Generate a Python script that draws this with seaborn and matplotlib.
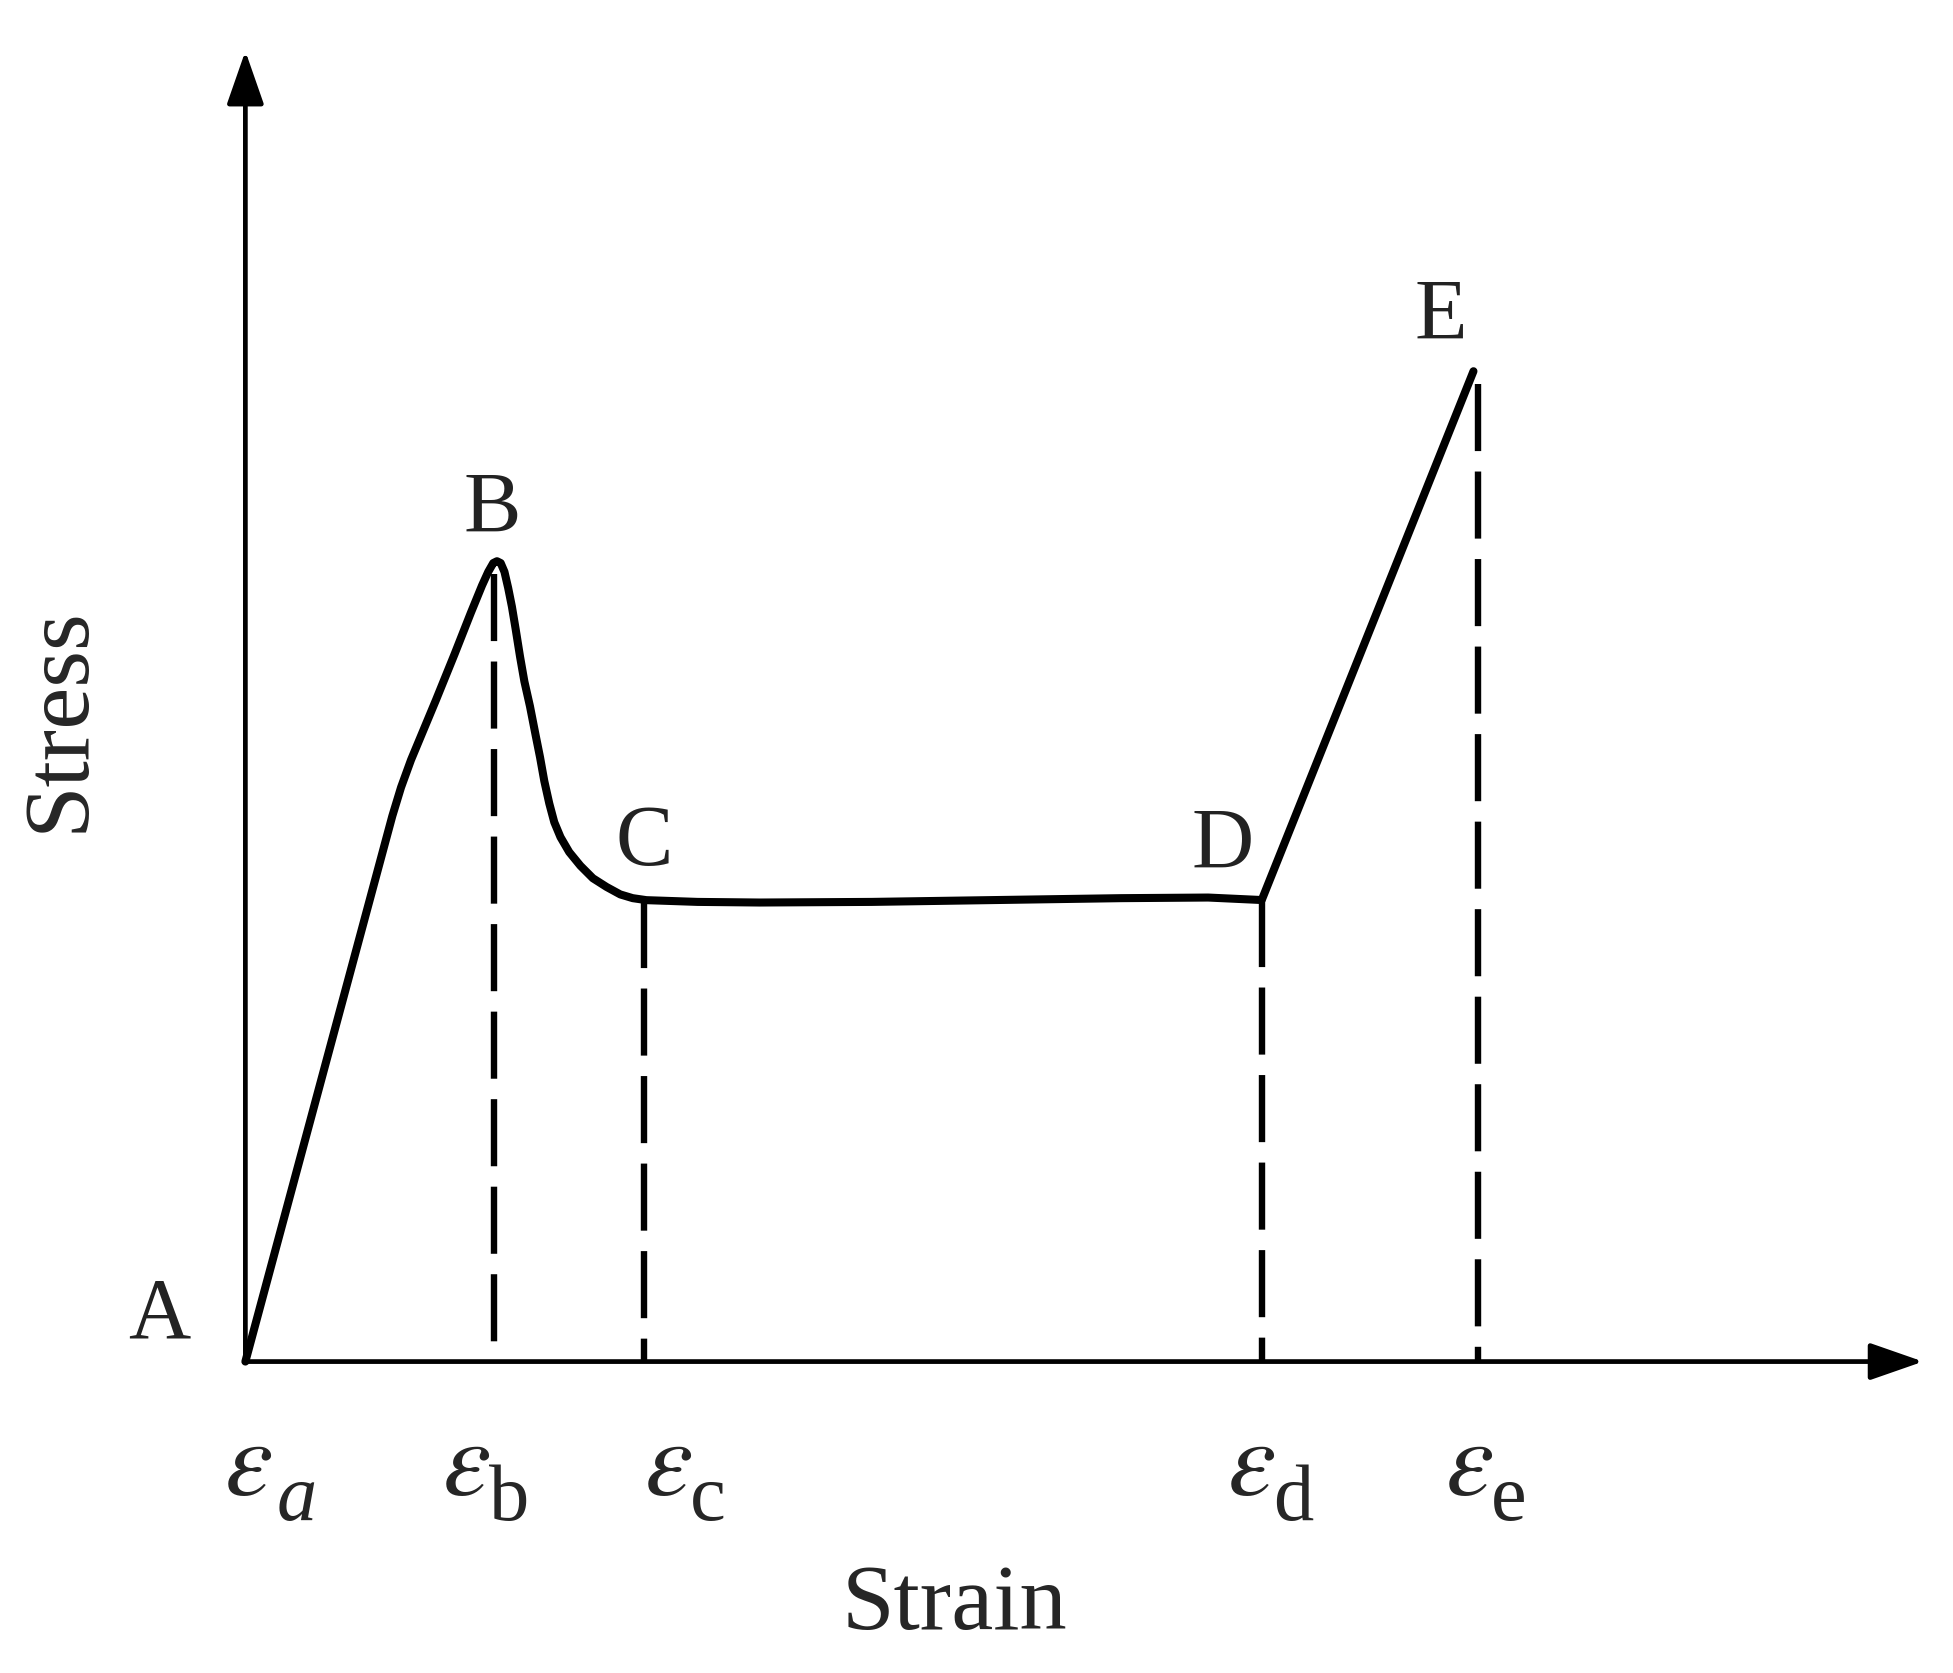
import pandas as pd
import matplotlib.pyplot as plt
import seaborn as sns

sns.set_style('white')
plt.rcParams['font.family'] = ['Liberation Serif', 'DejaVu Serif']
plt.rcParams['mathtext.fontset'] = 'stix'

# stress-strain curve (arbitrary units)
strain = [0.0, 1.18, 1.25, 1.33, 1.43, 1.53, 1.68, 1.81, 1.90, 1.95, 1.99, 2.02,
          2.05, 2.08, 2.11, 2.14, 2.17, 2.205, 2.24, 2.285, 2.33, 2.366, 2.40,
          2.44, 2.48, 2.53, 2.60, 2.69, 2.79, 2.90, 3.01, 3.11, 3.22, 3.63, 4.13,
          5.03, 6.03, 7.03, 7.73, 8.16, 9.86]
stress = [0.0, 4.38, 4.61, 4.83, 5.07, 5.31, 5.68, 6.01, 6.23, 6.34, 6.41, 6.425,
          6.41, 6.34, 6.21, 6.06, 5.88, 5.66, 5.46, 5.26, 5.03, 4.85, 4.66,
          4.48, 4.33, 4.21, 4.09, 3.98, 3.88, 3.81, 3.75, 3.72, 3.704, 3.69, 3.685,
          3.69, 3.705, 3.72, 3.725, 3.705, 7.95]

# characteristic strains and the stress where each dashed guide starts
guide_strain = [2.0, 3.2, 8.16, 9.90]
guide_stress = [6.32, 3.70, 3.705, 7.85]

# point letters
point_names = ['A', 'B', 'C', 'D', 'E']
point_x = [-0.69, 1.98, 3.2, 7.85, 9.6]
point_y = [0.36, 6.83, 4.15, 4.13, 8.38]

# strain labels under the axis
eps_subs = ['a', 'b', 'c', 'd', 'e']
eps_x = [-0.17, 1.58, 3.2, 7.88, 9.63]
sub_x = [0.25, 1.96, 3.57, 8.25, 10.0]

x_end, y_end = 13.47, 10.52

fig = plt.figure(figsize=(19.53, 16.73), dpi=100)
ax = fig.add_axes([0, 0, 1, 1])
ax.set_xlim(-1.97, 13.71)
ax.set_ylim(-2.50, 10.93)
ax.axis('off')

# axes with arrow heads
arrow = dict(arrowstyle='-|>,head_length=3.3,head_width=1.15', mutation_scale=10,
             color='black', lw=3.4, shrinkA=0, shrinkB=0)
ax.annotate('', xy=(x_end, 0), xytext=(0, 0), arrowprops=arrow)
ax.annotate('', xy=(0, y_end), xytext=(0, 0), arrowprops=arrow)

# main curve
curve = pd.DataFrame({'strain': strain, 'stress': stress})
sns.lineplot(data=curve, x='strain', y='stress', sort=False, estimator=None,
             color='black', lw=5.8, ax=ax, solid_joinstyle='round',
             solid_capstyle='round')

# dashed guides
for gx, gy in zip(guide_strain, guide_stress):
    sns.lineplot(x=[gx, gx], y=[gy, 0], sort=False, estimator=None,
                 errorbar=None, color='black', lw=4.6, ax=ax)
    ax.lines[-1].set_dashes((10.5, 3.2))

for name, px, py in zip(point_names, point_x, point_y):
    ax.text(px, py, name, fontsize=62, color='#222222', ha='center', va='center')

for sub, ex, sx in zip(eps_subs, eps_x, sub_x):
    ax.text(ex, -1.07, r'$\varepsilon$', fontsize=78, ha='left', va='baseline')
    ax.text(sx, -1.27, sub, fontsize=58, ha='left', va='baseline',
            fontstyle='italic' if sub == 'a' else 'normal')

ax.text(-1.49, 5.16, 'Stress', fontsize=68, rotation=90, ha='center', va='center')
ax.text(5.69, -1.97, 'Strain', fontsize=68, ha='center', va='center')

fig.savefig('out.png', dpi=100)
